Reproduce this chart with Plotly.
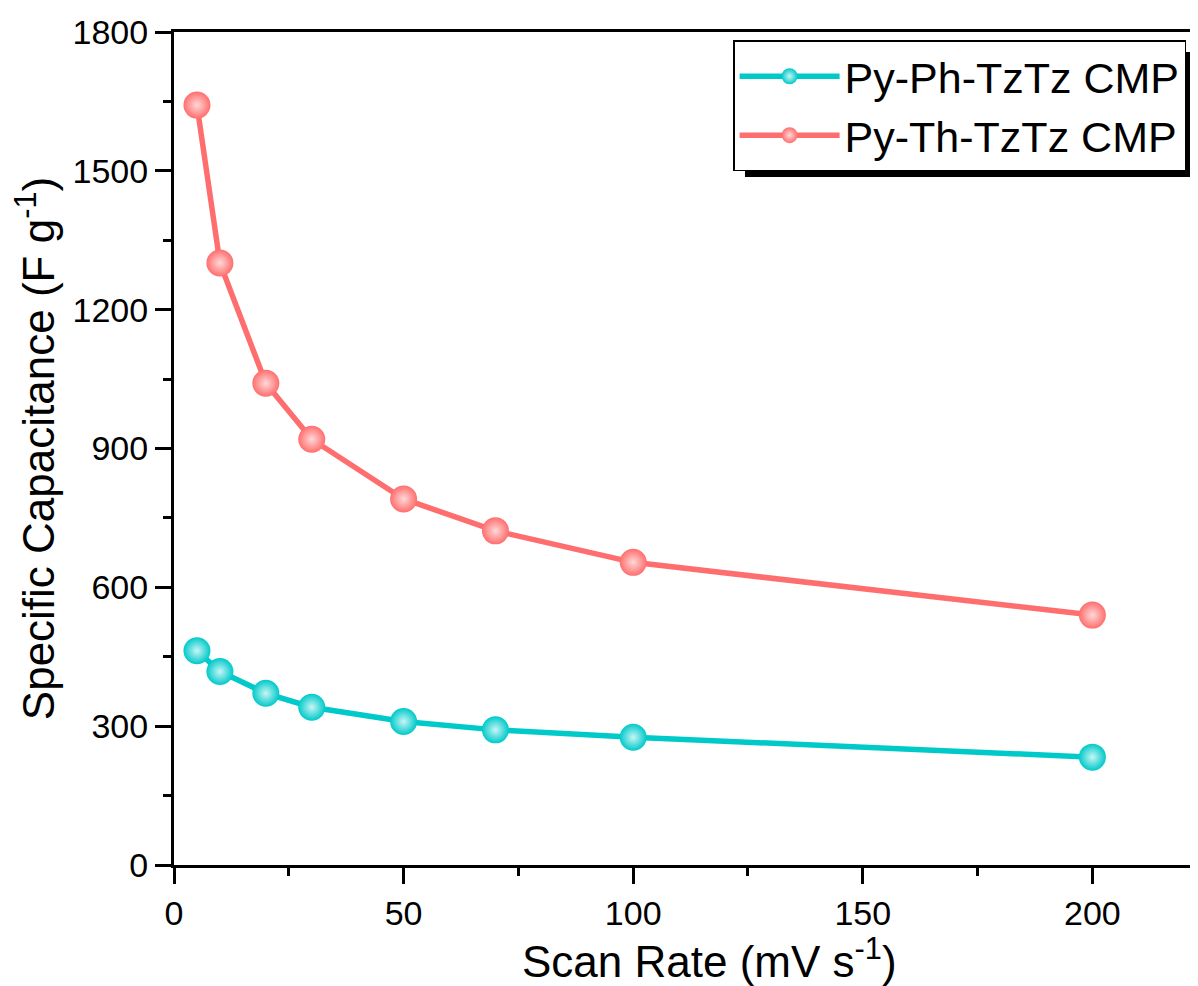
import plotly.graph_objects as go

# ─── Data ────────────────────────────────────────────────────────────
scan_rate = [5, 10, 20, 30, 50, 70, 100, 200]
cap_ph = [463, 418, 371, 341, 310, 292, 276, 233]
cap_th = [1642, 1301, 1041, 920, 791, 722, 654, 540]

SERIES = [
    ("Py-Ph-TzTz CMP", cap_ph, "#00C9C9", "#C8F6F6"),
    ("Py-Th-TzTz CMP", cap_th, "#FF6E6E", "#FFD8D8"),
]

FONT = "Liberation Sans, Arial, sans-serif"

fig = go.Figure()

for name, ys, color, light in SERIES:
    fig.add_trace(go.Scatter(
        x=scan_rate, y=ys,
        name=name,
        mode="lines+markers",
        line=dict(width=5.5, color=color),
        marker=dict(
            size=27, color=color,
            gradient=dict(type="radial", color=light),
            line=dict(width=0),
        ),
    ))

axis_common = dict(
    showgrid=False, zeroline=False,
    showline=True, linewidth=3, linecolor="black",
    ticks="outside", ticklen=16, tickwidth=3, tickcolor="black",
    tickfont=dict(size=34, color="black", family=FONT),
)

# page body has an 8px margin, so the figure is 8px smaller and shifted
fig.update_layout(
    width=1190, height=978,
    paper_bgcolor="white", plot_bgcolor="white",
    font=dict(family=FONT, color="black"),
    margin=dict(l=166, r=0, t=24, b=121),
    xaxis=dict(
        **axis_common,
        range=[0, 223],
        tickvals=[0, 50, 100, 150, 200],
        mirror=True,
        minor=dict(ticks="outside", ticklen=8, tickwidth=3, tickcolor="black", dtick=25, tick0=0),
    ),
    yaxis=dict(
        **axis_common,
        range=[0, 1800],
        tickvals=[0, 300, 600, 900, 1200, 1500, 1800],
        minor=dict(ticks="outside", ticklen=8, tickwidth=3, tickcolor="black", dtick=150, tick0=0),
        title=dict(
            text="Specific Capacitance (F g<sup>-1</sup>)",
            font=dict(size=44, family=FONT, color="black"),
            standoff=12,
        ),
    ),
    legend=dict(
        x=0.546, y=0.990, xanchor="left", yanchor="top",
        bgcolor="white", bordercolor="black", borderwidth=1.5,
        font=dict(size=43, family=FONT, color="black"),
        itemwidth=100,
        tracegroupgap=0,
    ),
    showlegend=True,
    annotations=[dict(
        text="Scan Rate (mV s<sup>-1</sup>)",
        xref="paper", yref="paper", x=0.523, y=-0.112,
        xanchor="center", yanchor="middle", showarrow=False,
        font=dict(size=44, family=FONT, color="black"),
    )],
    shapes=[dict(
        type="rect", xref="paper", yref="paper",
        x0=0.5576, x1=0.996, y0=0.826, y1=0.976,
        fillcolor="black", line=dict(width=0), layer="above",
    )],
)

fig.write_html("out.html")
